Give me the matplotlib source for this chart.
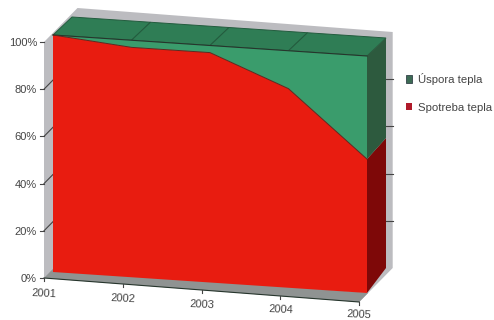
import numpy as np
import matplotlib
matplotlib.use('Agg')
import matplotlib.pyplot as plt
from matplotlib.patches import Patch

plt.rcParams['font.family'] = ['Liberation Sans', 'DejaVu Sans']

years = ['2001', '2002', '2003', '2004', '2005']
spotreba = [100.0, 97.0, 97.0, 84.0, 56.5]
uspora = [0.0, 3.0, 3.0, 16.0, 43.5]
value_ticks = [0, 20, 40, 60, 80, 100]

labels = ['Úspora tepla', 'Spotreba tepla']

c_red = '#e81c10'
c_red_side = '#7e0808'
c_green = '#3a9c6c'
c_green_top = '#2f7d55'
c_green_side = '#2d5a3e'
c_wall = '#bcbcc0'
c_floor = '#8f9392'
c_line = '#26352c'
c_text = '#444444'


# --- oblique projections, both give pixel positions
def series_xy(i, v, d=0.0):
    i, v, d = np.asarray(i, float), np.asarray(v, float), np.asarray(d, float)
    x = 53 + 78.5 * i + 19 * d
    y = 272 + 5.25 * i - 25 * d - (2.37 - 0.07 * d) * v
    return x, y


def box_xy(i, v, d=0.0):
    i, v, d = np.asarray(i, float), np.asarray(v, float), np.asarray(d, float)
    x = 44 + 78.8 * i + 33.5 * d
    y = 278 + 6.0 * i - 2.36 * v - 34 * d
    return x, y


def poly(ax, func, pts, **kw):
    i, v, d = zip(*pts)
    x, y = func(i, v, d)
    ax.fill(x, y, **kw)


fig = plt.figure(figsize=(4.94, 3.2), dpi=100)
ax = fig.add_axes([0, 0, 1, 1])
ax.set_xlim(0, 494)
ax.set_ylim(320, 0)
ax.axis('off')

n = len(years) - 1
idx = np.arange(len(years))
red = np.array(spotreba)
total = red + np.array(uspora)

# --- walls and floor
poly(ax, box_xy, [(0, 0, 0), (0, 100, 0), (0, 100, 1), (n, 100, 1), (n, 0, 1), (n, 0, 0)],
     fc=c_wall, ec='none', zorder=1)
poly(ax, box_xy, [(0, 0, 0), (0, 0, 0.27), (n, 0, 0.27), (n, 0, 0)], fc=c_floor, ec='none', zorder=2)
ax.plot(*box_xy([0, n], [0, 0]), color=c_line, lw=0.8, zorder=3)

# --- wall ticks
for v in value_ticks:
    x0, y0 = box_xy(0, v)
    ax.plot([x0 - 4, x0], [y0, y0], color=c_text, lw=0.8, zorder=3)
    if 0 < v < 100:
        ax.plot(*box_xy([0, 0], [v, v], [0, 0.27]), color=c_text, lw=0.8, zorder=3)
        x1, y1 = box_xy(n, v, 1)
        ax.plot([x1 - 7, x1], [y1, y1], color=c_text, lw=0.8, zorder=3)
    ax.text(x0 - 7, y0 + 1, f'{v}%', ha='right', va='center', fontsize=8, color=c_text)

for i, year in enumerate(years):
    x0, y0 = box_xy(i, 0)
    ax.plot([x0, x0], [y0, y0 + 3], color=c_text, lw=0.8, zorder=3)
    ax.text(x0, y0 + 15.5 - 0.6 * i, year, ha='center', va='center', rotation=-3,
            fontsize=8, color=c_text)

# --- top surface
for i in range(n):
    a, b = total[i], total[i + 1]
    poly(ax, series_xy, [(i, a, 0), (i + 1, b, 0), (i + 1, b, 1), (i, a, 1)],
         fc=c_green_top, ec='#235c3e', lw=0.7, zorder=4)

# --- right side
poly(ax, series_xy, [(n, 0, 0), (n, red[n], 0), (n, red[n], 1), (n, 0, 1)], fc=c_red_side, ec='none', zorder=4)
poly(ax, series_xy, [(n, red[n], 0), (n, total[n], 0), (n, total[n], 1), (n, red[n], 1)],
     fc=c_green_side, ec='none', zorder=4)

# --- front faces
x_top, y_total = series_xy(idx, total)
x_red, y_red = series_xy(idx, red)
x_base, y_base = series_xy(idx, np.zeros(len(idx)))
ax.fill(np.r_[x_top, x_red[::-1]], np.r_[y_total, y_red[::-1]], fc=c_green, ec='none', zorder=5)
ax.fill(np.r_[x_red, x_base[::-1]], np.r_[y_red, y_base[::-1]], fc=c_red, ec='none', zorder=5)
ax.plot(x_top, y_total, color=c_line, lw=0.8, zorder=6)
ax.plot(x_red, y_red, color='#5a2a20', lw=0.7, zorder=6)

handles = [Patch(fc='#3d6b55', ec='#33424a', lw=0.6), Patch(fc='#b01a2a', ec='none')]
ax.legend(handles, labels, loc='upper left', bbox_to_anchor=(405.5 / 494, 1 - 73 / 320),
          frameon=False, fontsize=8.2, labelcolor=c_text, handlelength=0.6, handleheight=0.6,
          handletextpad=0.5, labelspacing=1.55, borderpad=0, borderaxespad=0)

fig.savefig('out.png', dpi=100, facecolor='white')
